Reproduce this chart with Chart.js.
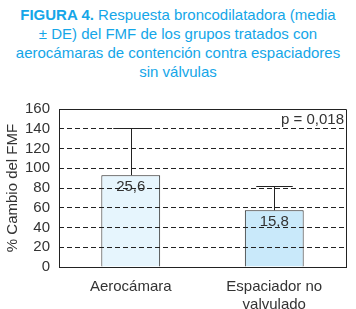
<!DOCTYPE html>
<html>
<head>
<meta charset="utf-8">
<script src="https://cdn.jsdelivr.net/npm/chart.js@4/dist/chart.umd.min.js"></script>
<style>
  body { margin: 0; background: #fff; }
  #wrap { position: relative; width: 356px; height: 309px; }
  #titulo {
    position: absolute; top: 5px; left: 0; width: 356px;
    text-align: center; color: #14a6e8;
    font: 15px/19px "Liberation Sans", Arial, sans-serif;
  }
  #titulo b { font-weight: bold; }
  canvas { position: absolute; top: 0; left: 0; }
</style>
</head>
<body>
<div id="wrap">
  <div id="titulo"><b>FIGURA 4.</b> Respuesta broncodilatadora (media<br>± DE) del FMF de los grupos tratados con<br>aerocámaras de contención contra espaciadores<br>sin válvulas</div>
  <canvas id="grafico" width="356" height="309"></canvas>
</div>
<script>
// datos
var categorias = ['Aerocámara', ['Espaciador no', 'valvulado']]
var medias = [93, 57.5]
var limite_sup = [140.5, 82]
var etiquetas_de = ['25,6', '15,8']
var cores_barras = ['#e6f5fd', '#c9e9fa']
var texto_p = 'p = 0,018'

var fonte = '"Liberation Sans", Arial, sans-serif'

// barras de erro + texto dentro das barras + moldura
var plugin_extra = {
    id: 'extra',
    afterDatasetsDraw: function(chart){
        const ctx = chart.ctx
        const meta = chart.getDatasetMeta(0)
        const y = chart.scales.y
        const area = chart.chartArea
        ctx.save()
        ctx.strokeStyle = '#222'
        ctx.lineWidth = 1
        meta.data.forEach(function(bar, i){
            let x = Math.round(bar.x) + 0.5
            let yTop = y.getPixelForValue(limite_sup[i])
            let yBar = y.getPixelForValue(medias[i])
            let cap = bar.width * 0.62
            ctx.beginPath()
            ctx.moveTo(x, yBar)
            ctx.lineTo(x, Math.round(yTop) + 0.5)
            ctx.moveTo(x - cap / 2, Math.round(yTop) + 0.5)
            ctx.lineTo(x + cap / 2, Math.round(yTop) + 0.5)
            ctx.stroke()

            ctx.fillStyle = '#333'
            ctx.font = '15px ' + fonte
            ctx.textAlign = 'center'
            ctx.textBaseline = 'middle'
            ctx.fillText(etiquetas_de[i], bar.x, yBar + 12)
        })
        // moldura
        ctx.setLineDash([])
        ctx.beginPath()
        ctx.moveTo(area.left, Math.round(area.top) + 0.5)
        ctx.lineTo(Math.round(area.right) + 0.5, Math.round(area.top) + 0.5)
        ctx.lineTo(Math.round(area.right) + 0.5, area.bottom)
        ctx.moveTo(Math.round(area.left) + 0.5, area.top)
        ctx.lineTo(Math.round(area.left) + 0.5, area.bottom)
        ctx.stroke()

        ctx.fillStyle = '#333'
        ctx.font = '15px ' + fonte
        ctx.textAlign = 'right'
        ctx.textBaseline = 'middle'
        ctx.fillText(texto_p, area.right - 2, area.top + 11)
        ctx.restore()
    }
}

const ctx = document.getElementById('grafico').getContext('2d')
const myChart = new Chart(ctx, {
    type: 'bar',
    data: {
        labels: categorias,
        datasets: [{
            data: medias,
            backgroundColor: cores_barras,
            borderColor: '#222',
            borderWidth: 1,
            barPercentage: 0.41,
            categoryPercentage: 1
        }]
    },
    options: {
        responsive: false,
        animation: false,
        layout: { padding: { top: 109, right: 10, left: 0, bottom: 0 } },
        plugins: {
            legend: { display: false },
            tooltip: { enabled: false }
        },
        scales: {
            x: {
                grid: { display: false },
                border: { color: '#222', width: 1 },
                ticks: { color: '#333', font: { size: 15, family: fonte }, padding: 3, maxRotation: 0 },
                afterFit: function(s){ s.height = 42 }
            },
            y: {
                min: 0,
                max: 160,
                ticks: { stepSize: 20, autoSkip: false, color: '#333', font: { size: 15, family: fonte }, padding: 9 },
                grid: {
                    z: 1,
                    drawTicks: false,
                    color: function(c){
                        return (c.tick.value === 0 || c.tick.value === 160) ? 'rgba(0,0,0,0)' : '#222'
                    }
                },
                border: { display: false, dash: [5, 3] },
                title: {
                    display: true,
                    text: '% Cambio del FMF',
                    color: '#333',
                    font: { size: 15, family: fonte },
                    padding: { top: 4, bottom: 0 }
                },
                afterFit: function(s){ s.width = 59 }
            }
        }
    },
    plugins: [plugin_extra]
})
</script>
</body>
</html>
